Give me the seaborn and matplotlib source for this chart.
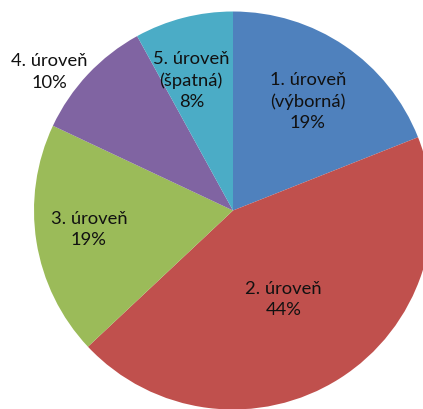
import numpy as np
import matplotlib
matplotlib.use("Agg")
import matplotlib.pyplot as plt
import seaborn as sns

# Category labels and their shares (percent)
levels = ["1. úroveň\n(výborná)", "2. úroveň", "3. úroveň", "4. úroveň", "5. úroveň\n(špatná)"]
shares = [19, 44, 19, 10, 8]
colors = ["#4F81BD", "#C0504D", "#9BBB59", "#8064A2", "#4BACC6"]

# Radial position of each data label as a fraction of the radius,
# and a small angular nudge (degrees) from the wedge's middle.
label_radius = [0.67, 0.51, 0.73, 1.16, 0.69]
label_nudge = [0, -2.5, -2, 6, 3.3]

sns.set_theme(style="white")
plt.rcParams["font.family"] = ["Lato", "DejaVu Sans"]

W, H = 423, 410
fig = plt.figure(figsize=(W / 100, H / 100), dpi=100)
ax = fig.add_axes([0, 0, 1, 1])

R = 199.0
cx, cy = 233.0, 211.5
wedges, _ = ax.pie(shares, colors=colors, startangle=90, counterclock=False,
                   radius=1.0, center=(0, 0),
                   wedgeprops=dict(linewidth=0))

for w, lab, s, rf, dn in zip(wedges, levels, shares, label_radius, label_nudge):
    mid = np.deg2rad((w.theta1 + w.theta2) / 2 + dn)
    x, y = rf * np.cos(mid), rf * np.sin(mid)
    ax.text(x, y, f"{lab}\n{s}%", ha="center", va="center",
            fontsize=13.2, color="#111111", linespacing=1.4)

ax.set_xlim(-cx / R, (W - cx) / R)
ax.set_ylim((cy - H) / R, cy / R)
ax.set_aspect("equal")
ax.axis("off")

fig.savefig("out.png", dpi=100, facecolor="white")
